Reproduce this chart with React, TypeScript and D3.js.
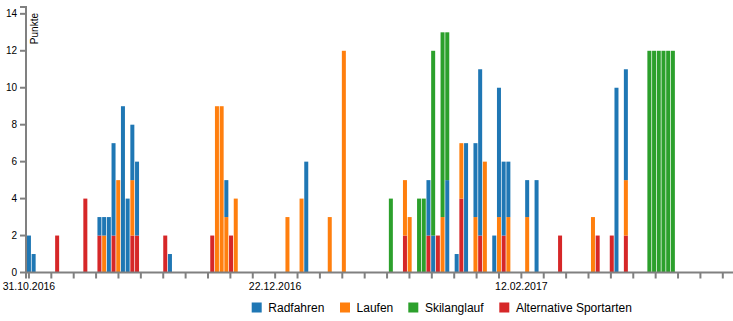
import React from "react";
import * as d3 from "d3";

// Days with training (dd.mm.yyyy)
const dates = [
  "31.10.2016","01.11.2016","06.11.2016","12.11.2016","15.11.2016","16.11.2016","17.11.2016","18.11.2016",
  "19.11.2016","20.11.2016","21.11.2016","22.11.2016","23.11.2016","29.11.2016","30.11.2016","09.12.2016",
  "10.12.2016","11.12.2016","12.12.2016","13.12.2016","14.12.2016","25.12.2016","28.12.2016","29.12.2016",
  "03.01.2017","06.01.2017","16.01.2017","19.01.2017","20.01.2017","22.01.2017","23.01.2017","24.01.2017",
  "25.01.2017","26.01.2017","27.01.2017","28.01.2017","30.01.2017","31.01.2017","01.02.2017","03.02.2017",
  "04.02.2017","05.02.2017","07.02.2017","08.02.2017","09.02.2017","10.02.2017","14.02.2017","16.02.2017",
  "21.02.2017","28.02.2017","01.03.2017","04.03.2017","05.03.2017","07.03.2017","12.03.2017","13.03.2017",
  "14.03.2017","15.03.2017","16.03.2017","17.03.2017",
];
const radfahren = [
  2,1,0,0,1,1,3,5, 0,9,4,3,4,0,1,0,
  0,0,2,0,0,0,0,6, 0,0,0,0,0,0,0,3,
  2,0,0,5,1,0,7,4, 9,0,2,7,4,3,2,5,
  0,0,0,0,10,6,0,0, 0,0,0,0,
];
const laufen = [
  0,0,0,0,0,2,0,0, 5,0,0,3,0,0,0,0,
  9,9,3,0,4,3,4,0, 3,12,0,3,3,0,0,0,
  0,0,3,0,0,3,0,3, 0,6,0,3,0,3,3,0,
  0,3,0,0,0,3,0,0, 0,0,0,0,
];
const skilanglauf = [
  0,0,0,0,0,0,0,0, 0,0,0,0,0,0,0,0,
  0,0,0,0,0,0,0,0, 0,0,4,0,0,4,4,0,
  10,0,10,8,0,0,0,0, 0,0,0,0,0,0,0,0,
  0,0,0,0,0,0,12,12, 12,12,12,12,
];
const alternativeSportarten = [
  0,0,2,4,2,0,0,2, 0,0,0,2,2,2,0,2,
  0,0,0,2,0,0,0,0, 0,0,0,2,0,0,0,2,
  0,2,0,0,0,4,0,0, 2,0,0,0,2,0,0,0,
  2,0,2,2,0,2,0,0, 0,0,0,0,
];

const seriesNames = ["Radfahren", "Laufen", "Skilanglauf", "Alternative Sportarten"];
const seriesColors = ["#1f77b4", "#ff7f0e", "#2ca02c", "#d62728"];
const stackOrder = ["Alternative Sportarten", "Laufen", "Radfahren", "Skilanglauf"];
const yTicks = [0, 2, 4, 6, 8, 10, 12, 14];
const xLabelEvery = 11;

const W = 733;
const H = 321;
const FONT = "'Liberation Sans', Arial, sans-serif";
const AXIS = "#808080";

export default function App() {
  const parse = d3.utcParse("%d.%m.%Y");
  const fmt = d3.utcFormat("%d.%m.%Y");
  const parsed = dates.map((d) => parse(d) as Date);
  const first = parsed[0];

  const rows = parsed.map((date, i) => ({
    date,
    Radfahren: radfahren[i],
    Laufen: laufen[i],
    Skilanglauf: skilanglauf[i],
    "Alternative Sportarten": alternativeSportarten[i],
  }));

  const x = d3
    .scaleUtc()
    .domain([d3.utcHour.offset(first, -15), d3.utcHour.offset(first, 3595)])
    .range([26, 733]);
  const y = d3.scaleLinear().domain([0, 14.37]).range([272.5, 7]);

  const stack = d3.stack<any>().keys(stackOrder);
  const layers = stack(rows as any);
  const colorOf = (k: string) => seriesColors[seriesNames.indexOf(k)];

  // evenly spaced ticks starting at the first data day
  const stepMs = 4.762 * 24 * 3600 * 1000;
  const ticks: Date[] = [];
  for (let k = 0; ; k++) {
    const t = new Date(first.getTime() + k * stepMs);
    if (x(t) > 730) break;
    ticks.push(t);
  }

  const barW = 4;
  const y0 = y(0);

  const legendX = [251.7, 340, 408.3, 499.3];

  return (
    <svg
      width={W}
      height={H}
      style={{ position: "absolute", left: 0, top: 0, background: "#fff" }}
      fontFamily={FONT}
    >
      {/* bars */}
      <g>
        {layers.map((layer) => (
          <g key={layer.key} fill={colorOf(layer.key)}>
            {layer.map((seg, i) =>
              seg[1] - seg[0] > 0 ? (
                <rect
                  key={i}
                  x={x(rows[i].date) - barW / 2}
                  width={barW}
                  y={y(seg[1])}
                  height={y(seg[0]) - y(seg[1])}
                />
              ) : null
            )}
          </g>
        ))}
      </g>

      {/* x axis */}
      <g>
        <path d={`M26,${y0 + 6}V${y0}H733`} fill="none" stroke={AXIS} strokeWidth={2} />
        {ticks.map((t, k) => (
          <g key={k} transform={`translate(${x(t)},${y0})`}>
            <line y2={6} stroke={AXIS} strokeWidth={2} />
            {k % xLabelEvery === 0 ? (
              <text y={17} textAnchor="middle" fontSize={10.5} fill="#000">
                {fmt(t)}
              </text>
            ) : null}
          </g>
        ))}
      </g>

      {/* y axis */}
      <g>
        <path d={`M20,7H26V${y0}`} fill="none" stroke={AXIS} strokeWidth={2} />
        {yTicks.map((v) => (
          <g key={v} transform={`translate(26,${y(v)})`}>
            <line x2={-6} stroke={AXIS} strokeWidth={2} />
            <text x={-9} dy="0.35em" textAnchor="end" fontSize={10} fill="#000">
              {v}
            </text>
          </g>
        ))}
        <text
          transform="translate(37.5,13) rotate(-90)"
          textAnchor="end"
          fontSize={10}
          fill="#000"
        >
          Punkte
        </text>
      </g>

      {/* legend */}
      <g>
        {seriesNames.map((name, i) => (
          <g key={name} transform={`translate(${legendX[i]},0)`}>
            <rect x={0} y={302.5} width={10} height={10} fill={seriesColors[i]} />
            <text x={16.6} y={312} fontSize={12} fill="#000">
              {name}
            </text>
          </g>
        ))}
      </g>
    </svg>
  );
}
